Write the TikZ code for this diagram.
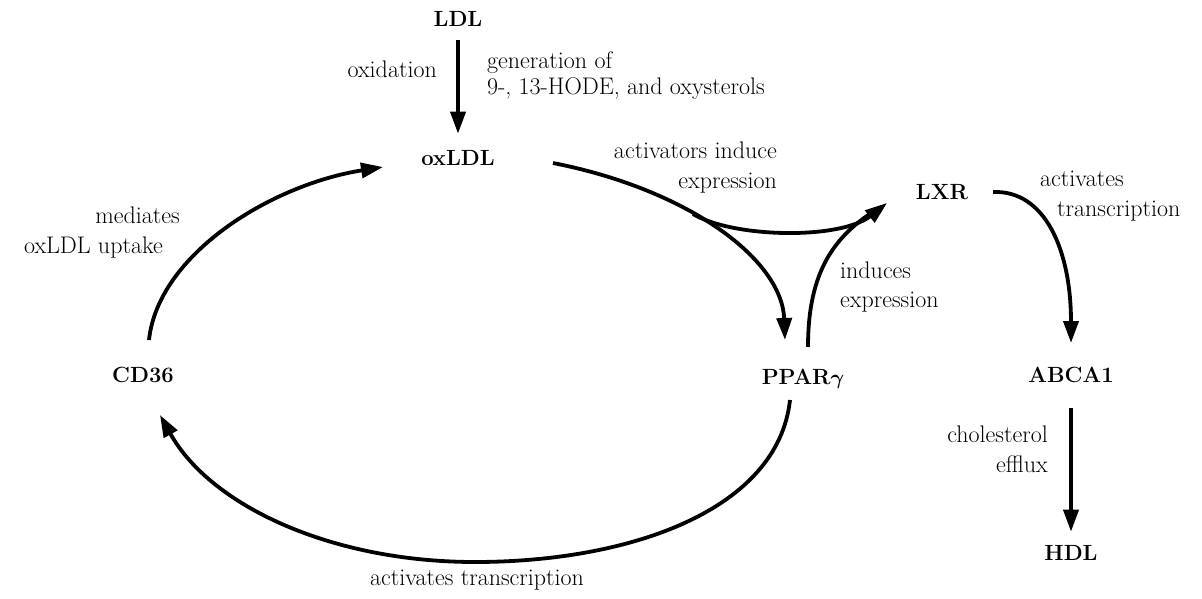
\documentclass[tikz,border=0pt]{standalone}
\usepackage{bm}
\usetikzlibrary{arrows.meta}
\begin{document}
\begin{tikzpicture}[x=1pt,y=-1pt,
  mol/.style={font=\fontsize{22}{26}\selectfont\bfseries, inner sep=0pt, anchor=base},
  lbl/.style={font=\fontsize{24}{29}\selectfont, inner sep=0pt},
  arr/.style={line width=3.8pt, -{Triangle[length=22pt,width=15pt]}},
  link/.style={line width=3.8pt}]
\useasboundingbox (0,0) rectangle (1202,599);

% molecules
\node[mol] (LDL)   at (458,27)  {LDL};
\node[mol] (oxLDL) at (458,165) {oxLDL};
\node[mol] (LXR)   at (942,199) {LXR};
\node[mol] (CD36)  at (143,382) {CD36};
\node[mol] (PPARg) at (803,384) {PPAR$\bm{\gamma}$};
\node[mol] (ABCA1) at (1071,382) {ABCA1};
\node[mol] (HDL)   at (1071,560) {HDL};

% connector end points
\coordinate (cdOut)  at (149,340);
\coordinate (oxIn)   at (383,167);
\coordinate (oxOut)  at (553,163);
\coordinate (ppIn)   at (785,340);
\coordinate (fork)   at (693,214);
\coordinate (lxIn)   at (887,203);
\coordinate (ppUp)   at (808,347);
\coordinate (ppDown) at (790,400);
\coordinate (cdIn)   at (160,415);
\coordinate (lxOut)  at (993,192);
\coordinate (abIn)   at (1071,343);

% straight steps
\draw[arr, shorten <=13pt, shorten >=16pt] (LDL.south) -- (oxLDL.north);
\draw[arr, shorten <=26pt, shorten >=13pt] (ABCA1.south) -- (HDL.north);

% CD36 takes up oxLDL
\draw[arr] (cdOut) .. controls (158,255) and (270,185) .. (oxIn);
% oxLDL activates PPARgamma, with a branch to LXR
\draw[arr] (oxOut) .. controls (690,190) and (782,260) .. (ppIn);
\draw[arr] (fork) .. controls (733,238) and (840,240) .. (lxIn);
\draw[link, shorten >=9pt] (ppUp) .. controls (808,270) and (835,235) .. (lxIn);
% PPARgamma back to CD36
\draw[arr] (ppDown) .. controls (778,510) and (630,562) .. (475,562)
                    .. controls (330,562) and (210,505) .. (cdIn);
% LXR to ABCA1
\draw[arr] (lxOut) .. controls (1045,190) and (1071,250) .. (abIn);

% labels
\node[lbl, anchor=mid east] (tOx) at (437,75) {oxidation};
\node[lbl, anchor=north west, align=left, font=\fontsize{24}{26}\selectfont] (tGen) at (487,51.5)
  {generation of\\9-, 13-HODE, and oxysterols};
\node[lbl, anchor=north east, align=right, font=\fontsize{24}{30}\selectfont] (tAct) at (777,141.5)
  {activators induce\\expression};
\node[lbl, anchor=north west, align=left, font=\fontsize{24}{30}\selectfont] (tLxr) at (1040,170.5)
  {activates\\\hspace*{17pt}transcription};
\node[lbl, anchor=north east, align=right, font=\fontsize{24}{30}\selectfont] (tMed) at (180,206.5)
  {mediates\\oxLDL uptake\kern17pt};
\node[lbl, anchor=north west, align=left, font=\fontsize{24}{29}\selectfont] (tInd) at (840,261.5)
  {induces\\expression};
\node[lbl, anchor=north east, align=right, font=\fontsize{24}{30}\selectfont] (tChol) at (1048,425.5)
  {cholesterol\\efflux};
\node[lbl, anchor=mid] (tTr) at (477,583) {activates transcription};
\end{tikzpicture}
\end{document}
